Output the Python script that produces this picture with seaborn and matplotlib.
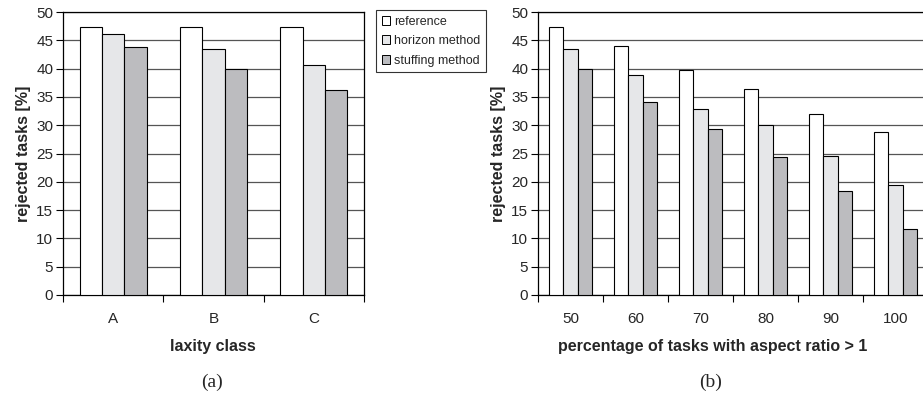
import pandas as pd
import numpy as np
import matplotlib
matplotlib.use("Agg")
import matplotlib.pyplot as plt
import seaborn as sns
from matplotlib.patches import Patch

# Data
methods = ["reference", "horizon method", "stuffing method"]
colors = ["#ffffff", "#e6e7e9", "#bbbcc0"]

laxity_classes = ["A", "B", "C"]
laxity_reference = [47.4, 47.4, 47.4]
laxity_horizon = [46.2, 43.4, 40.6]
laxity_stuffing = [43.8, 40.0, 36.3]

aspect_pct = ["50", "60", "70", "80", "90", "100"]
aspect_reference = [47.4, 44.0, 39.8, 36.4, 32.0, 28.8]
aspect_horizon = [43.4, 38.8, 32.9, 30.0, 24.6, 19.5]
aspect_stuffing = [40.0, 34.1, 29.4, 24.4, 18.4, 11.7]


def long_df(cats, ref, hor, stu):
    rows = []
    for c, a, b, s in zip(cats, ref, hor, stu):
        rows.append((c, methods[0], a))
        rows.append((c, methods[1], b))
        rows.append((c, methods[2], s))
    return pd.DataFrame(rows, columns=["cat", "method", "value"])


df_a = long_df(laxity_classes, laxity_reference, laxity_horizon, laxity_stuffing)
df_b = long_df(aspect_pct, aspect_reference, aspect_horizon, aspect_stuffing)

sns.set_style("white")
plt.rcParams["font.family"] = ["Liberation Sans", "DejaVu Sans"]

W, H = 923, 400
fig = plt.figure(figsize=(W / 100, H / 100), dpi=100)
ax1 = fig.add_axes([63 / W, (H - 295) / H, 301 / W, 283 / H])
ax2 = fig.add_axes([538 / W, (H - 295) / H, 390 / W, 283 / H])

for ax, df, n in [(ax1, df_a, 3), (ax2, df_b, 6)]:
    sns.barplot(data=df, x="cat", y="value", hue="method", palette=colors,
                edgecolor="black", linewidth=0.8, width=0.67, ax=ax,
                legend=False, zorder=3)
    ax.set_ylim(0, 50)
    ax.set_xlim(-0.5, n - 0.5)
    ax.set_yticks(range(0, 51, 5))
    ax.yaxis.grid(True, color="#555555", linewidth=0.9, zorder=0)
    ax.set_axisbelow(True)
    for s in ax.spines.values():
        s.set_color("black")
        s.set_linewidth(0.9)
    ax.tick_params(axis="y", which="major", direction="out", length=5,
                   width=0.8, color="black", labelsize=11, pad=2, left=True)
    ax.tick_params(axis="x", which="major", length=0, labelsize=11, pad=12)
    ax.set_xticks(np.arange(-0.5, n, 1.0), minor=True)
    ax.tick_params(axis="x", which="minor", direction="out", length=5,
                   width=0.8, color="black", bottom=True)
    ax.set_ylabel("rejected tasks [%]", fontsize=11.5, fontweight="bold",
                  labelpad=4)

ax1.set_xlabel("laxity class", fontsize=11.5, fontweight="bold")
ax2.set_xlabel("percentage of tasks with aspect ratio > 1", fontsize=11.5,
               fontweight="bold")
# x-labels placed like in the reference (b is centred on the visible part)
ax1.xaxis.set_label_coords((213 - 63) / 301, -(347 - 295) / 283)
ax2.xaxis.set_label_coords((713 - 538) / 390, -(347 - 295) / 283)
ax1.xaxis.label.set_va("center")
ax2.xaxis.label.set_va("center")

fig.text(212 / W, 1 - 382 / H, "(a)", fontsize=14, ha="center", va="center",
         family=["Liberation Serif", "DejaVu Serif"])
fig.text(711 / W, 1 - 382 / H, "(b)", fontsize=14, ha="center", va="center",
         family=["Liberation Serif", "DejaVu Serif"])

# legend
handles = [Patch(facecolor=c, edgecolor="black", linewidth=0.7) for c in colors]
leg = fig.legend(handles, methods, loc="upper left",
                 bbox_to_anchor=(376 / W, 1 - 10 / H), fontsize=9,
                 frameon=True, fancybox=False, edgecolor="black",
                 handlelength=0.7, handleheight=0.7, handletextpad=0.3,
                 labelspacing=0.6, borderpad=0.45, borderaxespad=0)
leg.get_frame().set_linewidth(0.8)

fig.savefig("out.png", dpi=100)
